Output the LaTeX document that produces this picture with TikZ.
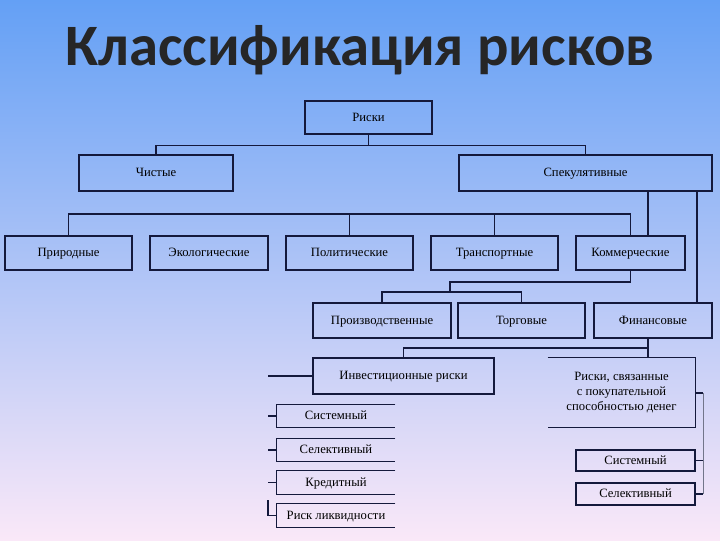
\documentclass[tikz,border=0pt]{standalone}
\usepackage{fontspec}
\setmainfont{Liberation Serif}
\newfontfamily\titlefont{Carlito}
\definecolor{bgtop}{RGB}{100,160,245}
\definecolor{bgmid}{RGB}{170,205,245}
\definecolor{bgbot}{RGB}{250,232,248}
\definecolor{ln}{RGB}{20,25,60}
\begin{document}
\begin{tikzpicture}[x=0.75pt,y=-0.75pt,
  bx/.style={draw=ln,line width=0.8pt,inner sep=0pt,font=\fontsize{9.5}{11}\selectfont,align=center,text height=1.6ex,text depth=0.4ex},
  ob/.style={inner sep=0pt,font=\fontsize{9.5}{11}\selectfont,text height=1.6ex,text depth=0.4ex},
  cn/.style={draw=ln,line width=0.8pt}]
\shade[top color=bgtop,middle color=bgmid,bottom color=bgbot] (0,0) rectangle (720,540);
\useasboundingbox (0,0) rectangle (720,540);
\node[font=\titlefont\bfseries\fontsize{44}{48}\selectfont,text=black!85] (title) at (360,50) {Классификация рисков};
% boxes
\node[bx,minimum width=127*0.75pt,minimum height=33*0.75pt] (r) at (368.5,117.5) {Риски};
\node[bx,minimum width=154*0.75pt,minimum height=36*0.75pt] (ch) at (156,173) {Чистые};
\node[bx,minimum width=253*0.75pt,minimum height=36*0.75pt] (sp) at (585.5,173) {Спекулятивные};
\node[bx,minimum width=127*0.75pt,minimum height=34*0.75pt] (p1) at (68.5,253) {Природные};
\node[bx,minimum width=118*0.75pt,minimum height=34*0.75pt] (p2) at (209,253) {Экологические};
\node[bx,minimum width=127*0.75pt,minimum height=34*0.75pt] (p3) at (349.5,253) {Политические};
\node[bx,minimum width=127*0.75pt,minimum height=34*0.75pt] (p4) at (494.5,253) {Транспортные};
\node[bx,minimum width=109*0.75pt,minimum height=34*0.75pt] (p5) at (630.5,253) {Коммерческие};
\node[bx,minimum width=138*0.75pt,minimum height=35*0.75pt] (k1) at (382,320.5) {Производственные};
\node[bx,minimum width=127*0.75pt,minimum height=35*0.75pt] (k2) at (521.5,320.5) {Торговые};
\node[bx,minimum width=118*0.75pt,minimum height=35*0.75pt] (k3) at (653,320.5) {Финансовые};
\node[bx,minimum width=181*0.75pt,minimum height=36*0.75pt] (inv) at (403.5,376) {Инвестиционные риски};
% open-left box
\node[inner sep=0pt,font=\fontsize{9.5}{11.5}\selectfont,align=center,minimum width=147*0.75pt,minimum height=69*0.75pt] (pok) at (621.5,392.5) {Риски, связанные\\с покупательной\\способностью денег};
\draw[cn] (pok.north west) -- (pok.north east) -- (pok.south east) -- (pok.south west);
\node[bx,minimum width=119*0.75pt,minimum height=21*0.75pt] (s1) at (635.5,460.5) {Системный};
\node[bx,minimum width=119*0.75pt,minimum height=22*0.75pt] (s2) at (635.5,494) {Селективный};
% open-right boxes
\foreach \n/\t/\a/\b in {i1/Системный/405/427, i2/Селективный/439/461, i3/Кредитный/471/494, i4/Риск ликвидности/504/527}{
  \node[ob,minimum width=118*0.75pt,minimum height={(\b-\a)*0.75pt}] (\n) at (336,{(\a+\b)/2}) {\t};
  \draw[cn] (\n.north east) -- (\n.north west) -- (\n.south west) -- (\n.south east);
}
% connectors
\draw[cn] (r.south) -- ++(0,11) -| (ch.north);
\draw[cn] (r.south) ++(0,11) -| (sp.north);
\coordinate (h1) at (69,214);
\draw[cn] (p1.north) |- (p5.north |- h1) -- (p5.north);
\draw[cn] (p3.north) -- (p3.north |- h1);
\draw[cn] (p4.north) -- (p4.north |- h1);
\draw[cn] (648,191) -- (648,236);
\draw[cn] (697,191) -- (697,303);
\coordinate (h2) at (450,282);
\coordinate (h3) at (450,292);
\draw[cn] (p5.south) |- (h2) -- (h3);
\draw[cn] (k1.north) |- (k2.north |- h3) -- (k2.north);
\coordinate (h4) at (648,348);
\draw[cn] (k3.south -| h4) -- (h4) -| (inv.north);
\draw[cn] (h4) -- (pok.north -| h4);
\draw[cn] (inv.west) -- (268,376);
\foreach \n in {i1,i2,i3}{\draw[cn] (\n.west) -- ++(-9,0);}
\draw[cn] (268,500) |- (i4.west);
\draw[ln!60,line width=0.6pt] (703,393) -- (703,494);
\draw[cn] (695,393) -- (703,393);
\draw[cn] (s1.east) -- (703,460.5);
\draw[cn] (s2.east) -- (703,494);
\end{tikzpicture}
\end{document}
